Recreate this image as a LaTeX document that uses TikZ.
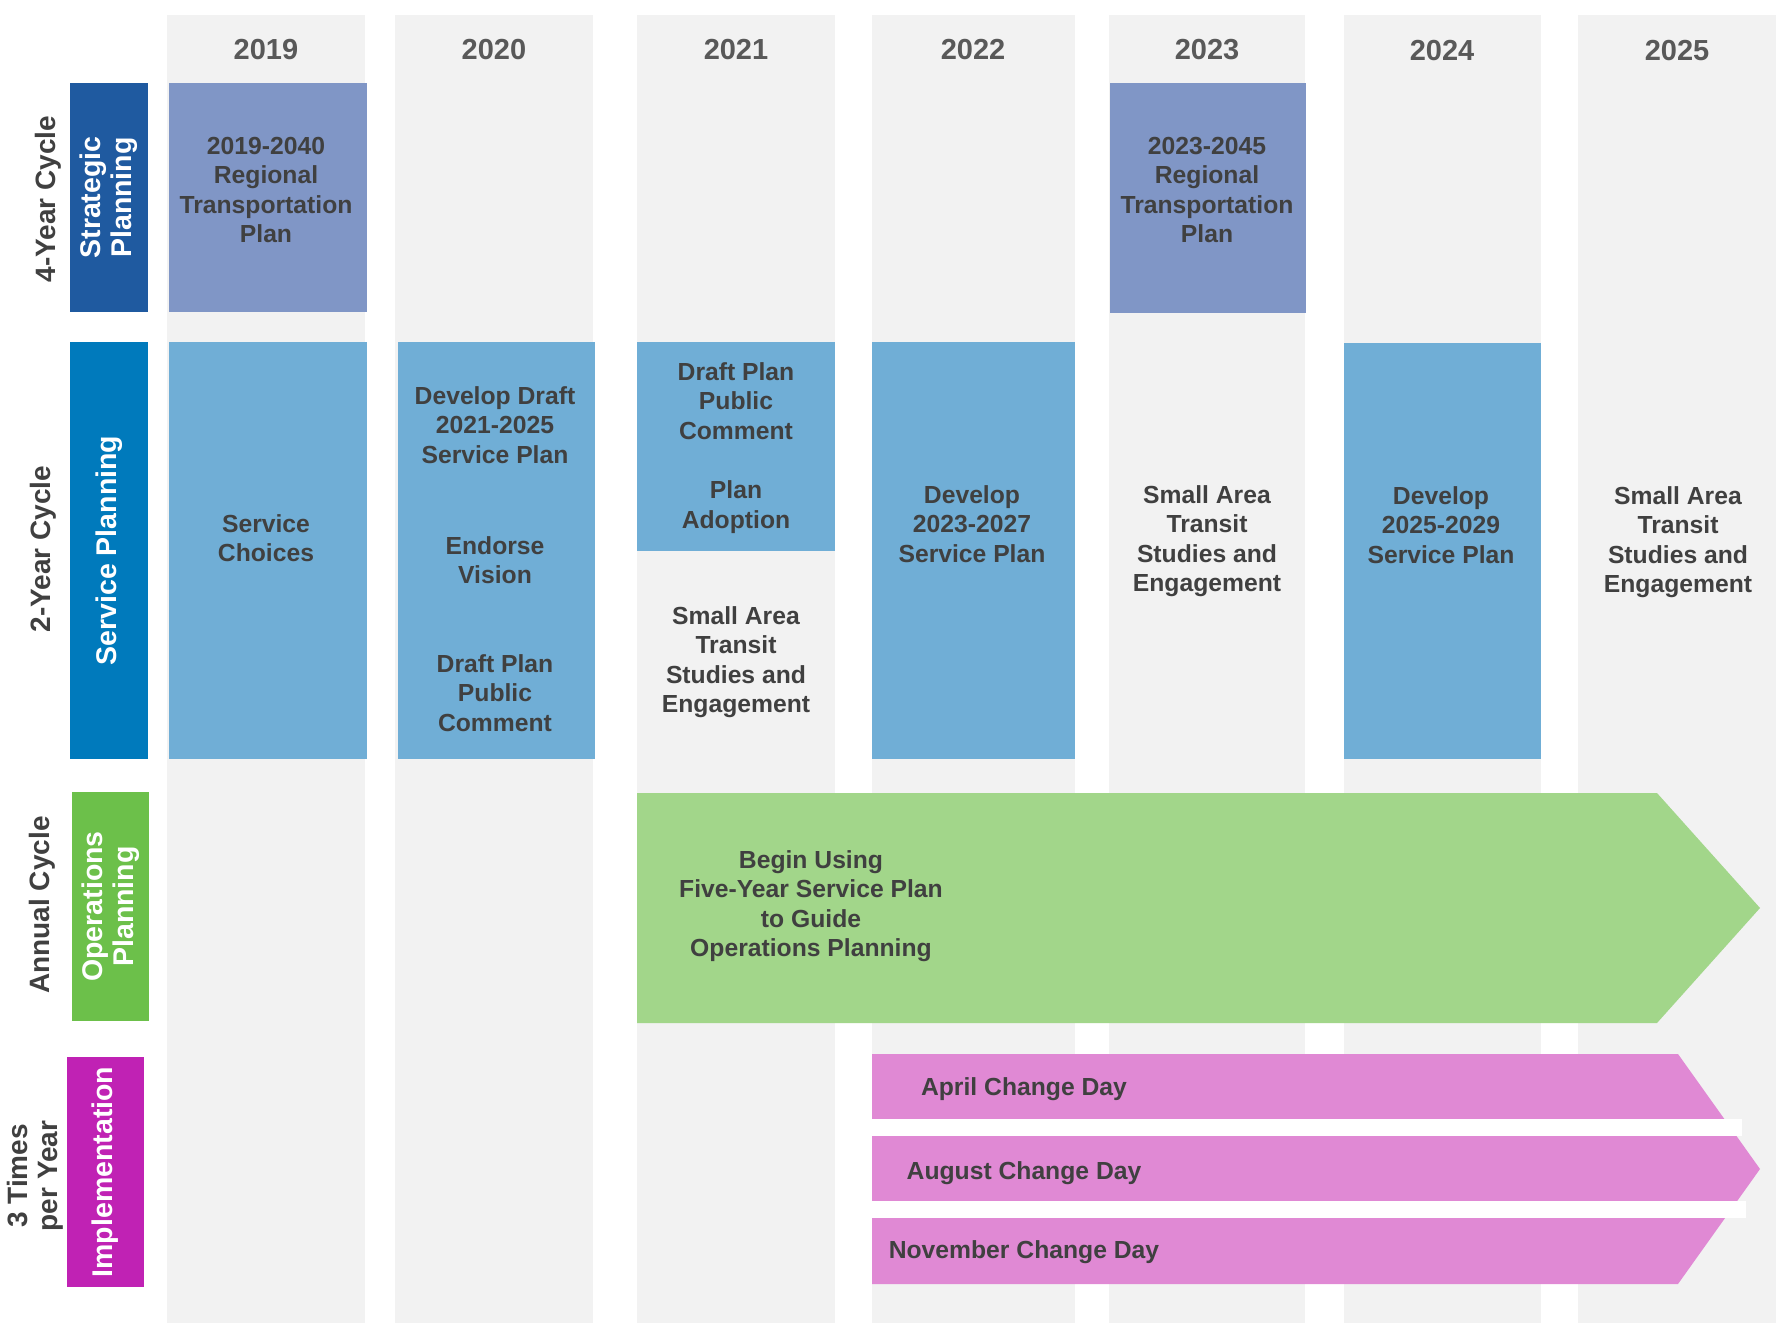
\documentclass[tikz,border=0pt]{standalone}
\usepackage{fontspec}
\setmainfont{Liberation Sans}
\usetikzlibrary{fit}
\definecolor{colbg}{HTML}{F2F2F2}
\definecolor{txtgray}{HTML}{404040}
\definecolor{yrgray}{HTML}{595959}
\definecolor{stratlab}{HTML}{1F5AA0}
\definecolor{servlab}{HTML}{007ABC}
\definecolor{opslab}{HTML}{6CC04A}
\definecolor{implab}{HTML}{C022B4}
\definecolor{rtpfill}{HTML}{8096C6}
\definecolor{servfill}{HTML}{70AED6}
\definecolor{opsfill}{HTML}{A2D68A}
\definecolor{impfill}{HTML}{E089D4}
\begin{document}
\begin{tikzpicture}[x=1pt,y=-1pt,
  colbox/.style={fill=colbg, draw=none, inner sep=0pt},
  blk/.style={draw=none, inner sep=0pt},
  txt/.style={text=txtgray, font=\bfseries\fontsize{24.7}{29.5}\selectfont, align=center, inner sep=0pt},
  yr/.style={text=yrgray, font=\bfseries\fontsize{29}{32}\selectfont, inner sep=0pt},
  lab/.style={text=white, font=\bfseries\fontsize{28.5}{31}\selectfont, align=center, rotate=90, inner sep=0pt},
  cyc/.style={text=txtgray, font=\bfseries\fontsize{28}{30}\selectfont, align=center, rotate=90, inner sep=0pt},
]
\useasboundingbox (0,0) rectangle (1781,1325);
\fill[white] (0,0) rectangle (1781,1325);

% columns
\node[colbox, fit={(167,15)(365,1323)}] (c2019) {};
\node[colbox, fit={(395,15)(593,1323)}] (c2020) {};
\node[colbox, fit={(637,15)(835,1323)}] (c2021) {};
\node[colbox, fit={(872,15)(1075,1323)}] (c2022) {};
\node[colbox, fit={(1109,15)(1305,1323)}] (c2023) {};
\node[colbox, fit={(1344,15)(1541,1323)}] (c2024) {};
\node[colbox, fit={(1578,15)(1776,1323)}] (c2025) {};

% year labels
\node[yr] (y2019) at (266,50) {2019};
\node[yr] (y2020) at (494,50) {2020};
\node[yr] (y2021) at (736,50) {2021};
\node[yr] (y2022) at (973,50) {2022};
\node[yr] (y2023) at (1207,50) {2023};
\node[yr] (y2024) at (1442,51) {2024};
\node[yr] (y2025) at (1677,51) {2025};

% row labels
\node[blk, fill=stratlab, fit={(70,83)(148,312)}] (lstrat) {};
\node[lab] at (lstrat.center) {Strategic\\Planning};
\node[blk, fill=servlab, fit={(70,342)(148,759)}] (lserv) {};
\node[lab] at (lserv.center) {Service Planning};
\node[blk, fill=opslab, fit={(72,792)(149,1021)}] (lops) {};
\node[lab] at (lops.center) {Operations\\Planning};
\node[blk, fill=implab, fit={(67,1057)(144,1287)}] (limp) {};
\node[lab] at (limp.center) {Implementation};

\node[cyc] (cyc4) at (48,199) {4-Year Cycle};
\node[cyc] (cyc2) at (43,549) {2-Year Cycle};
\node[cyc] (cyc1) at (42,905) {Annual Cycle};
\node[cyc] (cyc3) at (35,1176) {3 Times\\per Year};

% strategic boxes
\node[blk, fill=rtpfill, fit={(169,83)(367,312)}] (rtpA) {};
\node[txt] at (266,190) {2019-2040\\Regional\\Transportation\\Plan};
\node[blk, fill=rtpfill, fit={(1110,83)(1306,313)}] (rtpB) {};
\node[txt] at (1207,190) {2023-2045\\Regional\\Transportation\\Plan};

% service boxes
\node[blk, fill=servfill, fit={(169,342)(367,759)}] (sv2019) {};
\node[txt] at (266,538) {Service\\Choices};
\node[blk, fill=servfill, fit={(398,342)(595,759)}] (sv2020) {};
\node[txt] at (495,425) {Develop Draft\\2021-2025\\Service Plan};
\node[txt] at (495,560) {Endorse\\Vision};
\node[txt] at (495,693) {Draft Plan\\Public\\Comment};
\node[blk, fill=servfill, fit={(637,342)(835,551)}] (sv2021) {};
\node[txt] at (736,401) {Draft Plan\\Public\\Comment};
\node[txt] at (736,507) {Plan\\Adoption};
\node[txt] (sa2021) at (736,662) {Small Area\\Transit\\Studies and\\Engagement};
\node[blk, fill=servfill, fit={(872,342)(1075,759)}] (sv2022) {};
\node[txt] at (972,524) {Develop\\2023-2027\\Service Plan};
\node[txt] (sa2023) at (1207,541) {Small Area\\Transit\\Studies and\\Engagement};
\node[blk, fill=servfill, fit={(1344,343)(1541,759)}] (sv2024) {};
\node[txt] at (1441,525) {Develop\\2025-2029\\Service Plan};
\node[txt] (sa2025) at (1678,542) {Small Area\\Transit\\Studies and\\Engagement};

% operations arrow
\fill[opsfill] (637,793) -- (1657,793) -- (1760,908) -- (1657,1023) -- (637,1023) -- cycle;
\node[txt] (opstxt) at (811,906) {Begin Using\\Five-Year Service Plan\\to Guide\\Operations Planning};

% implementation arrow
\fill[impfill] (872,1054) -- (1678,1054) -- (1760,1169) -- (1678,1284) -- (872,1284) -- cycle;
\fill[white] (872,1119) rectangle (1742,1136);
\fill[white] (872,1201) rectangle (1746,1218);
\node[txt] (apr) at (1024,1089) {April Change Day};
\node[txt] (aug) at (1024,1173) {August Change Day};
\node[txt] (nov) at (1024,1252) {November Change Day};
\end{tikzpicture}
\end{document}
